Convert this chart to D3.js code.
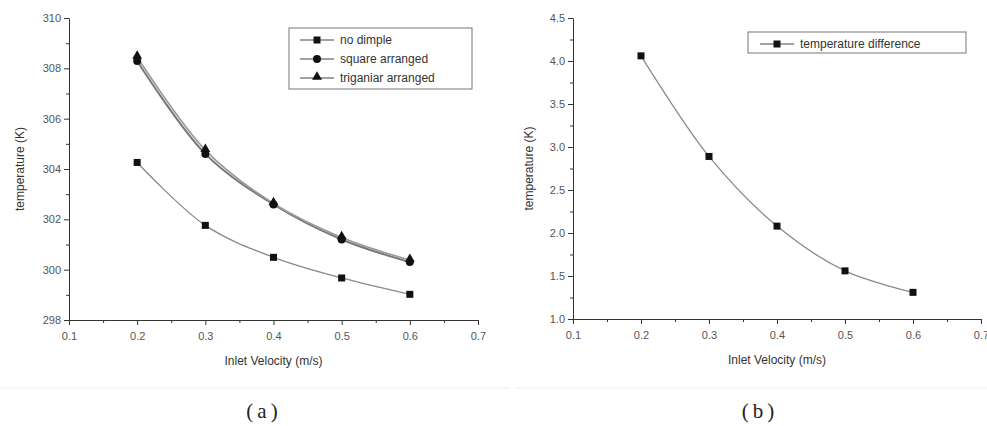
<!DOCTYPE html>
<html>
<head>
<meta charset="utf-8">
<script src="https://cdn.jsdelivr.net/npm/d3@7"></script>
<style>
  body { margin: 0; background: #fff; }
  svg { display: block; font-family: "Liberation Sans", Arial, sans-serif; }
  .axis path, .axis line { stroke: #333; stroke-width: 1px; }
  .axis text { fill: #555; font-size: 11px; }
  .label { fill: #333; font-size: 12px; }
  .legend text { fill: #333; font-size: 12px; }
  .caption { font-family: "Liberation Serif", "DejaVu Serif", serif; font-size: 21px; fill: #222; }
</style>
</head>
<body>
<svg id="svg" width="987" height="426"></svg>
<script>
// velocities (m/s)
var velocity = [0.2, 0.3, 0.4, 0.5, 0.6];

// panel (a): outlet temperature (K)
var noDimple = [304.26, 301.76, 300.49, 299.67, 299.02];
var squareArranged = [308.29, 304.60, 302.59, 301.20, 300.30];
var triangularArranged = [308.45, 304.75, 302.63, 301.28, 300.38];

// panel (b): temperature difference (K)
var tempDifference = [4.06, 2.89, 2.08, 1.56, 1.31];

var xTicks = [0.1, 0.2, 0.3, 0.4, 0.5, 0.6, 0.7];
var yTicksA = [298, 300, 302, 304, 306, 308, 310];
var yTicksB = [1.0, 1.5, 2.0, 2.5, 3.0, 3.5, 4.0, 4.5];

var svg = d3.select("#svg");

// faint rule under the plot images
svg.append("line").attr("x1", 0).attr("x2", 510).attr("y1", 388).attr("y2", 388)
  .attr("stroke", "#eee");
svg.append("line").attr("x1", 515).attr("x2", 987).attr("y1", 388).attr("y2", 388)
  .attr("stroke", "#eee");

function marker(g, shape, x, y) {
  if (shape === "square") {
    g.append("rect").attr("x", x - 3.5).attr("y", y - 3.5)
      .attr("width", 7).attr("height", 7).attr("fill", "#111");
  } else if (shape === "circle") {
    g.append("circle").attr("cx", x).attr("cy", y).attr("r", 4).attr("fill", "#111");
  } else {
    g.append("path").attr("d", d3.symbol().type(d3.symbolTriangle).size(42)())
      .attr("transform", "translate(" + x + "," + (y - 1) + ")").attr("fill", "#111");
  }
}

function drawPanel(p) {
  var x = d3.scaleLinear().domain([0.1, 0.7]).range([p.left, p.right]);
  var y = d3.scaleLinear().domain(p.yDomain).range([p.bottom, p.top]);

  var g = svg.append("g");

  // minor ticks
  var xMinor = d3.range(0.15, 0.7, 0.1);
  g.append("g").attr("class", "axis")
    .attr("transform", "translate(0," + p.bottom + ")")
    .call(d3.axisBottom(x).tickValues(xMinor).tickSize(3).tickFormat(""))
    .call(function (s) { s.select(".domain").remove(); });
  g.append("g").attr("class", "axis")
    .attr("transform", "translate(" + p.left + ",0)")
    .call(d3.axisLeft(y).tickValues(p.yMinor).tickSize(3).tickFormat(""))
    .call(function (s) { s.select(".domain").remove(); });

  // major axes
  g.append("g").attr("class", "axis")
    .attr("transform", "translate(0," + p.bottom + ")")
    .call(d3.axisBottom(x).tickValues(xTicks).tickSize(5).tickSizeOuter(0)
      .tickFormat(d3.format(".1f")))
    .call(function (s) { s.selectAll("text").attr("dy", "1.1em"); });
  g.append("g").attr("class", "axis")
    .attr("transform", "translate(" + p.left + ",0)")
    .call(d3.axisLeft(y).tickValues(p.yTicks).tickSize(5).tickSizeOuter(0)
      .tickFormat(p.yFormat));

  // axis titles
  g.append("text").attr("class", "label")
    .attr("x", (p.left + p.right) / 2).attr("y", p.bottom + 45)
    .attr("text-anchor", "middle").text("Inlet Velocity (m/s)");
  g.append("text").attr("class", "label")
    .attr("transform", "translate(" + p.yLabelX + "," + (p.top + p.bottom) / 2 + ") rotate(-90)")
    .attr("text-anchor", "middle").text("temperature (K)");

  var line = d3.line()
    .curve(d3.curveCatmullRom.alpha(0.5))
    .x(function (d, i) { return x(velocity[i]); })
    .y(function (d) { return y(d); });

  p.series.forEach(function (s) {
    g.append("path").attr("d", line(s.values))
      .attr("fill", "none").attr("stroke", s.stroke).attr("stroke-width", s.width);
  });
  p.series.forEach(function (s) {
    s.values.forEach(function (v, i) { marker(g, s.shape, x(velocity[i]), y(v)); });
  });

  // legend
  var lg = g.append("g").attr("class", "legend");
  lg.append("rect").attr("x", p.legend.x).attr("y", p.legend.y)
    .attr("width", p.legend.w).attr("height", p.legend.h)
    .attr("fill", "#fff").attr("stroke", "#777").attr("stroke-width", 1);
  p.series.forEach(function (s, i) {
    var ry = p.legend.y + 12 + i * 19;
    var lx = p.legend.x + p.legend.pad;
    lg.append("line").attr("x1", lx).attr("x2", lx + 34).attr("y1", ry).attr("y2", ry)
      .attr("stroke", "#444").attr("stroke-width", 1);
    marker(lg, s.shape, lx + 17, ry);
    lg.append("text").attr("x", lx + 40).attr("y", ry + 4).text(s.name);
  });

  var cap = svg.append("text").attr("class", "caption")
    .attr("x", p.captionX).attr("y", 418).attr("text-anchor", "middle");
  cap.append("tspan").text("(");
  cap.append("tspan").attr("dx", 4).text(p.caption);
  cap.append("tspan").attr("dx", 4).text(")");
}

drawPanel({
  left: 69, right: 478, top: 18, bottom: 320,
  yDomain: [298, 310], yTicks: yTicksA, yMinor: [299, 301, 303, 305, 307, 309],
  yFormat: d3.format("d"), yLabelX: 24,
  series: [
    { name: "no dimple", values: noDimple, shape: "square", stroke: "#8a8a8a", width: 1.3 },
    { name: "square arranged", values: squareArranged, shape: "circle", stroke: "#777", width: 2 },
    { name: "triganiar arranged", values: triangularArranged, shape: "triangle", stroke: "#999", width: 1.6 }
  ],
  legend: { x: 289, y: 28, w: 183, h: 61, pad: 11 },
  caption: "a", captionX: 262
});

drawPanel({
  left: 573, right: 981, top: 18, bottom: 319,
  yDomain: [1.0, 4.5], yTicks: yTicksB, yMinor: [1.25, 1.75, 2.25, 2.75, 3.25, 3.75, 4.25],
  yFormat: d3.format(".1f"), yLabelX: 533,
  series: [
    { name: "temperature difference", values: tempDifference, shape: "square", stroke: "#8a8a8a", width: 1.3 }
  ],
  legend: { x: 748, y: 32, w: 218, h: 21, pad: 12 },
  caption: "b", captionX: 758
});
</script>
</body>
</html>
